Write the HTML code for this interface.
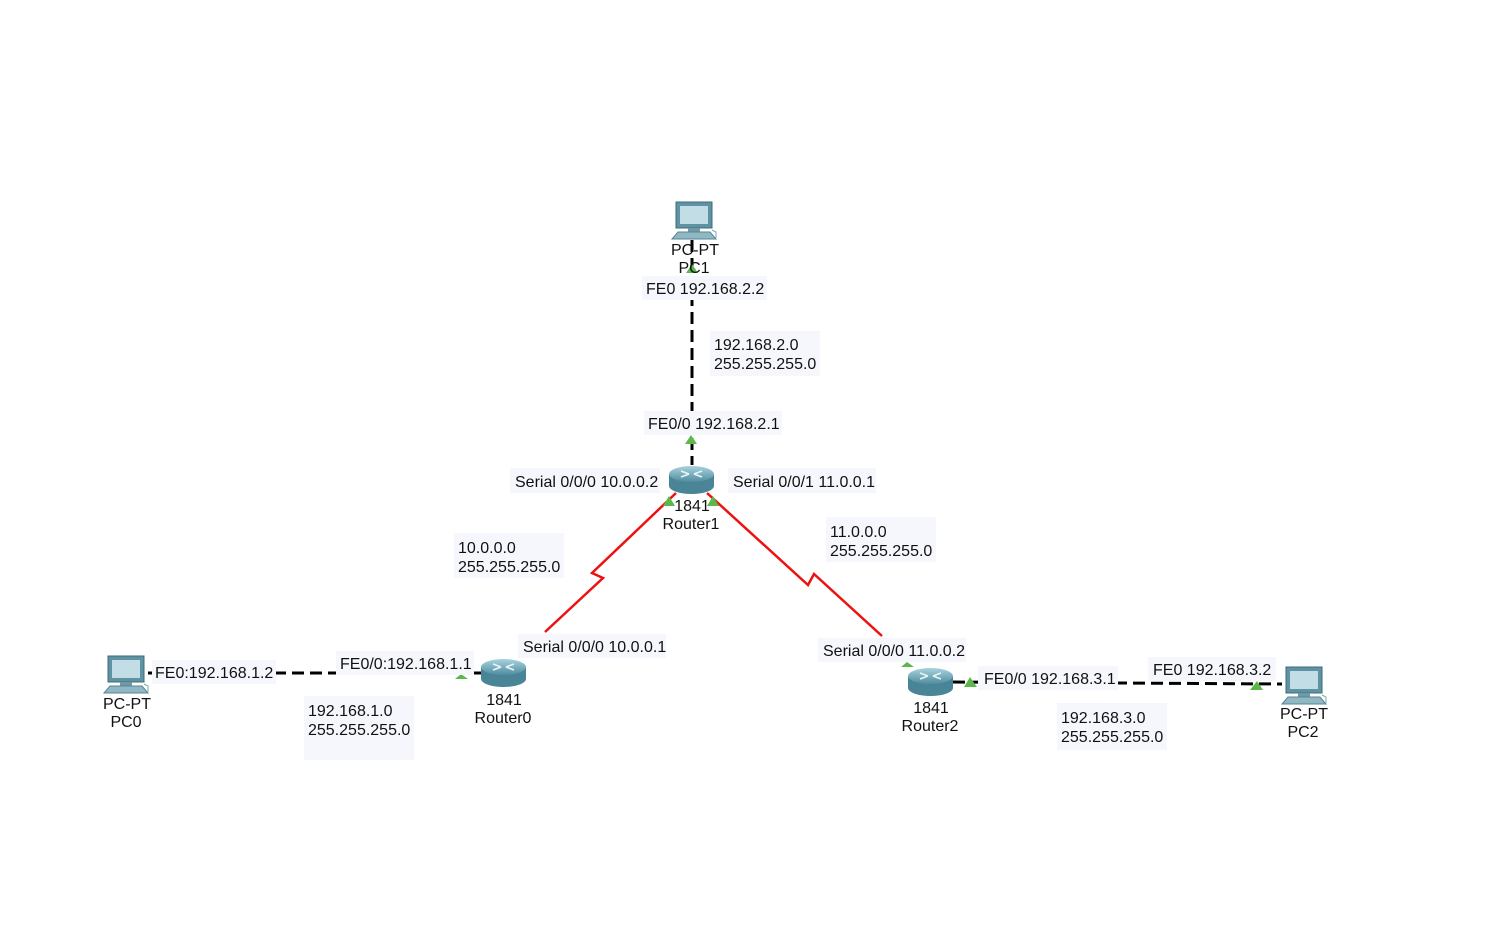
<!DOCTYPE html>
<html><head><meta charset="utf-8"><style>
html,body{margin:0;padding:0;background:#fff;}
svg{display:block;}
text{font-family:"Liberation Sans",Arial,sans-serif;font-size:16px;fill:#111;}
.b{fill:#f5f7fd;}
</style></head><body>
<svg width="1493" height="932" viewBox="0 0 1493 932" xmlns="http://www.w3.org/2000/svg">
<defs>
<linearGradient id="rg" x1="0" y1="0" x2="0" y2="1">
<stop offset="0" stop-color="#a9d3de"/><stop offset="1" stop-color="#4f8d9f"/></linearGradient>
<g id="router">
<path d="M0,9 L0,21 A22.5,8 0 0 0 45,21 L45,9 Z" fill="#4a8597"/>
<ellipse cx="22.5" cy="9" rx="22.5" ry="8" fill="url(#rg)"/>
<path d="M12,6 L20,9 M33,6 L25,9 M12,12 L20,9 M33,12 L25,9" stroke="#e8f4f8" stroke-width="1.6"/>
</g>
<g id="pc">
<rect x="4" y="0" width="36" height="26" fill="#5f93a3" stroke="#3c6b79"/>
<rect x="8" y="4" width="28" height="18" fill="#c3dde6"/>
<rect x="16" y="26" width="12" height="4" fill="#6e9aa8"/>
<path d="M0,37 L6,30 L38,30 L44,37 Z" fill="#8fb8c4" stroke="#5a8595"/>
<path d="M40,28 L44,30 L44,36" stroke="#7aa" fill="none"/>
</g>
</defs>

<line x1="692" y1="240" x2="692" y2="465" stroke="#000" stroke-width="3" stroke-dasharray="12,6"/>
<line x1="148" y1="673" x2="481" y2="673" stroke="#000" stroke-width="3" stroke-dasharray="12,6"/>
<line x1="953" y1="682" x2="1282" y2="684" stroke="#000" stroke-width="3" stroke-dasharray="12,6"/>
<polyline points="676,493 592,573 603,578 545,632" fill="none" stroke="#ee1111" stroke-width="2.5"/>
<polyline points="707,493 808,585 814,574 882,636" fill="none" stroke="#ee1111" stroke-width="2.5"/>

<g fill="#5cb84a">
<polygon points="685,444 697,444 691,435"/>
<polygon points="686,273 698,273 692,264"/>
<polygon points="663,506 675,506 669,496"/>
<polygon points="707,506 719,506 713,496"/>
<polygon points="455,679 468,679 461,674"/>
<polygon points="964,687 977,687 970,677"/>
<polygon points="1250,690 1263,690 1257,681"/>
<polygon points="901,667 914,667 907,662"/>
</g>

<use href="#pc" x="672" y="202"/>
<use href="#pc" x="104" y="656"/>
<use href="#pc" x="1282" y="667"/>
<use href="#router" x="669" y="465"/>
<use href="#router" x="481" y="658"/>
<use href="#router" x="908" y="667"/>

<text x="695" y="255" text-anchor="middle">PC-PT</text>
<text x="694" y="273" text-anchor="middle">PC1</text>
<text x="692" y="511" text-anchor="middle">1841</text>
<text x="691" y="529" text-anchor="middle">Router1</text>
<text x="504" y="705" text-anchor="middle">1841</text>
<text x="503" y="723" text-anchor="middle">Router0</text>
<text x="931" y="713" text-anchor="middle">1841</text>
<text x="930" y="731" text-anchor="middle">Router2</text>
<text x="127" y="709" text-anchor="middle">PC-PT</text>
<text x="126" y="727" text-anchor="middle">PC0</text>
<text x="1304" y="719" text-anchor="middle">PC-PT</text>
<text x="1303" y="737" text-anchor="middle">PC2</text>

<rect class="b" x="642" y="276" width="125" height="24"/><text x="646" y="294">FE0 192.168.2.2</text>
<rect class="b" x="710" y="331" width="110" height="45"/><text x="714" y="350">192.168.2.0</text><text x="714" y="369">255.255.255.0</text>
<rect class="b" x="644" y="411" width="138" height="24"/><text x="648" y="429">FE0/0 192.168.2.1</text>
<rect class="b" x="510" y="468" width="150" height="25"/><text x="515" y="487">Serial 0/0/0 10.0.0.2</text>
<rect class="b" x="728" y="468" width="148" height="25"/><text x="733" y="487">Serial 0/0/1 11.0.0.1</text>
<rect class="b" x="454" y="533" width="110" height="45"/><text x="458" y="553">10.0.0.0</text><text x="458" y="572">255.255.255.0</text>
<rect class="b" x="826" y="517" width="110" height="45"/><text x="830" y="537">11.0.0.0</text><text x="830" y="556">255.255.255.0</text>
<rect class="b" x="518" y="634" width="148" height="24"/><text x="523" y="652">Serial 0/0/0 10.0.0.1</text>
<rect class="b" x="152" y="660" width="124" height="24"/><text x="155" y="678">FE0:192.168.1.2</text>
<rect class="b" x="336" y="651" width="138" height="24"/><text x="340" y="669">FE0/0:192.168.1.1</text>
<rect class="b" x="304" y="696" width="110" height="64"/><text x="308" y="716">192.168.1.0</text><text x="308" y="735">255.255.255.0</text>
<rect class="b" x="818" y="638" width="148" height="24"/><text x="823" y="656">Serial 0/0/0 11.0.0.2</text>
<rect class="b" x="978" y="666" width="140" height="24"/><text x="984" y="684">FE0/0 192.168.3.1</text>
<rect class="b" x="1148" y="657" width="128" height="24"/><text x="1153" y="675">FE0 192.168.3.2</text>
<rect class="b" x="1057" y="703" width="110" height="47"/><text x="1061" y="723">192.168.3.0</text><text x="1061" y="742">255.255.255.0</text>
</svg>
</body></html>
